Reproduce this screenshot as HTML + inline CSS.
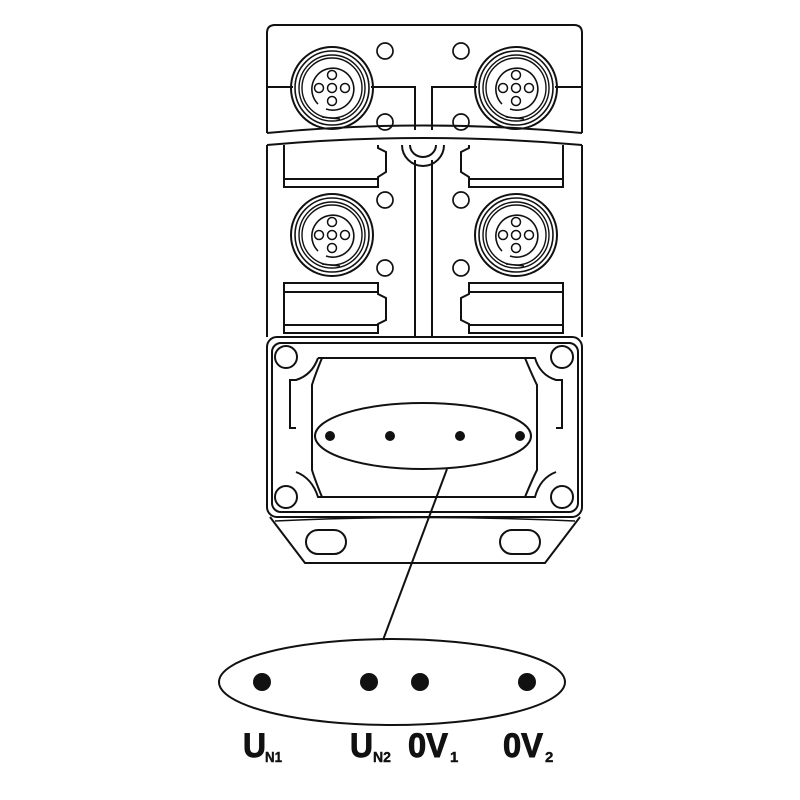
<!DOCTYPE html>
<html><head><meta charset="utf-8"><style>body{margin:0;background:#fff}svg{display:block}</style></head><body>
<svg width="800" height="800" viewBox="0 0 800 800" xmlns="http://www.w3.org/2000/svg" fill="none" stroke="#111" stroke-width="2">
<defs>
<g id="conn">
<circle r="41"/><circle r="37" stroke-width="1.6"/><circle r="33" stroke-width="1.4"/><circle r="30" stroke-width="1.4"/>
<path d="M-14,16 A21,21 0 1 1 -6,21" stroke-width="1.6"/>
<g stroke-width="1.5"><circle cx="0" cy="-13" r="4.5"/><circle cx="-13" cy="0" r="4.5"/><circle cx="0" cy="0" r="4.5"/><circle cx="13" cy="0" r="4.5"/><circle cx="0" cy="13" r="4.5"/></g>
<path d="M-10,29 L8,31" stroke-width="1.4"/>
</g>
</defs>
<path d="M267,133 L267,33 Q267,25 275,25 L574,25 Q582,25 582,33 L582,133"/>
<path d="M267,87 L293,87 M371,87 L415,87 L415,130 M432,130 L432,87 L477,87 M555,87 L582,87"/>
<path d="M267,133 Q423,118 582,133"/>
<path d="M267,145 Q423,131 582,145"/>
<path d="M267,145 L267,337 M582,145 L582,337"/>
<path d="M415,160 L415,337 M432,160 L432,337"/>
<path d="M402,145 A21,21 0 0 0 444,145"/>
<path d="M410,145 A13,12 0 0 0 436,145"/>
<path d="M284,145 L284,187 L378,187 L378,177 L386,172 L386,152 L378,148 L378,145 M284,179 L378,179"/>
<path d="M563,145 L563,187 L469,187 L469,177 L461,172 L461,152 L469,148 L469,145 M563,179 L469,179"/>
<path d="M284,283 L378,283 L378,294 L386,298 L386,320 L378,324 L378,333 L284,333 Z M284,292 L378,292 M284,325 L378,325"/>
<path d="M563,283 L469,283 L469,294 L461,298 L461,320 L469,324 L469,333 L563,333 Z M563,292 L469,292 M563,325 L469,325"/>
<use href="#conn" x="332" y="88"/><use href="#conn" x="516" y="88"/>
<use href="#conn" x="332" y="235"/><use href="#conn" x="516" y="235"/>
<g stroke-width="1.7">
<circle cx="385" cy="51" r="8"/><circle cx="461" cy="51" r="8"/><circle cx="385" cy="122" r="8"/><circle cx="461" cy="122" r="8"/>
<circle cx="385" cy="200" r="8"/><circle cx="461" cy="200" r="8"/><circle cx="385" cy="268" r="8"/><circle cx="461" cy="268" r="8"/>
</g>
<rect x="267" y="337" width="315" height="180" rx="10"/>
<rect x="272" y="343" width="306" height="169" rx="9"/>
<circle cx="286" cy="357" r="11"/><circle cx="562" cy="357" r="11"/><circle cx="286" cy="497" r="11"/><circle cx="562" cy="497" r="11"/>
<path d="M318,358 L535,358 Q540,375 556,380 L562,380 L562,428 L556,428 M556,472 Q540,478 535,497 L318,497 Q312,478 296,472 M296,428 L290,428 L290,380 L296,380 Q312,375 318,358"/>
<path d="M322,358 Q315,375 312,385 L312,470 Q315,480 322,497 M525,358 Q532,375 537,385 L537,470 Q532,480 525,497"/>
<ellipse cx="423" cy="436" rx="108" ry="33"/>
<g fill="#111" stroke="none"><circle cx="330" cy="436" r="5"/><circle cx="390" cy="436" r="5"/><circle cx="460" cy="436" r="5"/><circle cx="520" cy="436" r="5"/></g>
<path d="M270,517 L305,563 L545,563 L580,517"/>
<path d="M275,521 Q423,514 575,521" stroke-width="1.5"/>
<rect x="306" y="530" width="40" height="24" rx="12"/>
<rect x="500" y="530" width="40" height="24" rx="12"/>
<path d="M447,469 L383,640"/>
<ellipse cx="392" cy="682" rx="173" ry="43"/>
<g fill="#111" stroke="none"><circle cx="262" cy="682" r="9"/><circle cx="369" cy="682" r="9"/><circle cx="420" cy="682" r="9"/><circle cx="527" cy="682" r="9"/></g>
<g fill="#111" stroke="#111" stroke-width="0.9" font-family="Liberation Sans, sans-serif" font-weight="bold">
<text x="243" y="757" font-size="34" textLength="23" lengthAdjust="spacingAndGlyphs">U</text><text x="265" y="762" font-size="15" stroke-width="0.4" textLength="17" lengthAdjust="spacingAndGlyphs">N1</text>
<text x="350" y="757" font-size="34" textLength="23" lengthAdjust="spacingAndGlyphs">U</text><text x="373" y="762" font-size="15" stroke-width="0.4" textLength="18" lengthAdjust="spacingAndGlyphs">N2</text>
<text x="408" y="757" font-size="34" textLength="40" lengthAdjust="spacingAndGlyphs">0V</text><text x="450" y="762" font-size="15" stroke-width="0.4">1</text>
<text x="503" y="757" font-size="34" textLength="40" lengthAdjust="spacingAndGlyphs">0V</text><text x="545" y="762" font-size="15" stroke-width="0.4">2</text>
</g>
</svg>
</body></html>
